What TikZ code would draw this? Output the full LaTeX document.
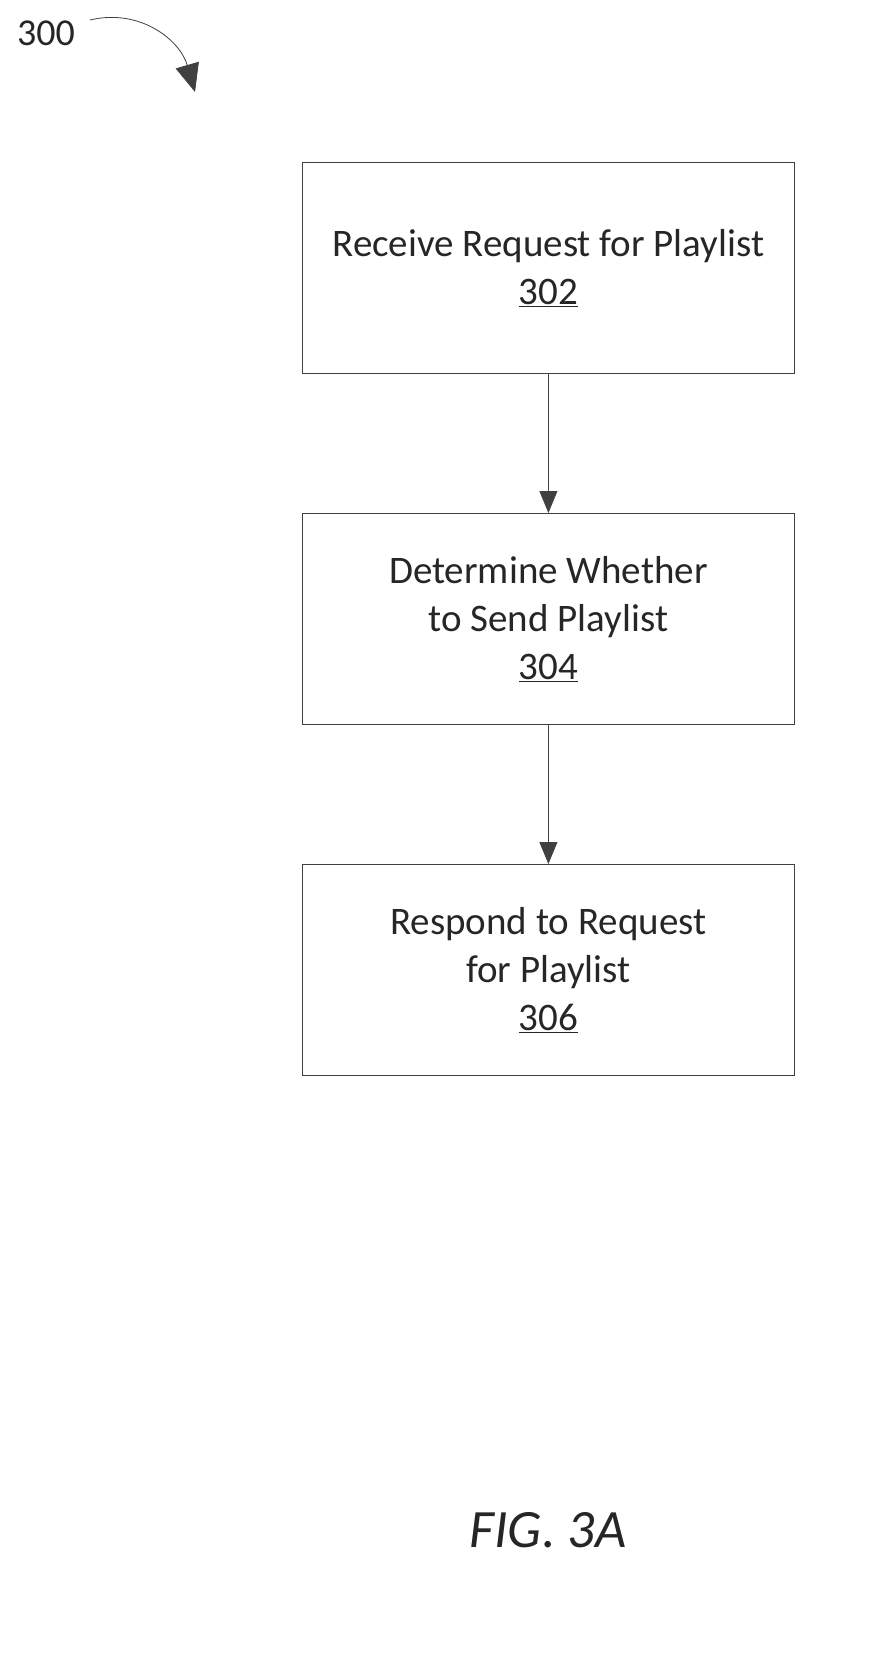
\documentclass[tikz,border=0pt]{standalone}
\usepackage{fontspec}
\setmainfont{Carlito}
\usetikzlibrary{arrows.meta}
\begin{document}
\begin{tikzpicture}[x=1pt,y=-1pt,
  box/.style={draw=black!75,line width=0.8pt,minimum width=492pt,minimum height=211pt,anchor=north west,inner sep=0pt,align=center,font=\fontsize{39}{48}\selectfont,text=black!85},
  arr/.style={draw=black!75,line width=0.8pt,-{Triangle[length=22pt,width=18pt]}}]
\useasboundingbox (0,0) rectangle (868,1675);
\node[box] (b1) at (302,162) {Receive Request for Playlist\\\underline{302}};
\node[box] (b2) at (302,513) {Determine Whether\\to Send Playlist\\\underline{304}};
\node[box] (b3) at (302,864) {Respond to Request\\for Playlist\\\underline{306}};
\draw[arr] (b1) -- (b2);
\draw[arr] (b2) -- (b3);
\node[font=\fontsize{38}{40}\selectfont,text=black!85] (l) at (46,33) {300};
\coordinate (a0) at (90,20);
\coordinate (a1) at (195,92);
\draw[arr,-{Triangle[length=28pt,width=24pt]}] (a0) .. controls (140,8) and (180,40) .. (a1);
\node[font=\fontsize{54}{54}\selectfont\itshape,text=black!85] (fig) at (548,1530) {FIG. 3A};
\end{tikzpicture}
\end{document}
